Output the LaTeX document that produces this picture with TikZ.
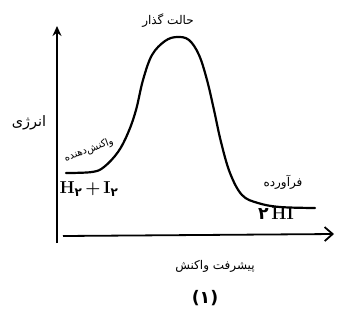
\documentclass[tikz,border=0pt]{standalone}
\usepackage{fontspec}
\usetikzlibrary{arrows.meta}
\TeXXeTstate=1
\newfontfamily\arabicfont[Script=Arabic]{DejaVu Sans}
\tikzset{
  axisline/.style={line width=1.8pt, black},
  curveline/.style={line width=2.2pt, black, line cap=round, line join=round},
  fa/.style={font=\arabicfont\large, inner sep=1pt},
  chem/.style={font=\bfseries\LARGE, inner sep=1pt}
}
\begin{document}
\begin{tikzpicture}[x=1pt,y=-1pt]
\useasboundingbox[fill=white] (0,0) rectangle (342,322);
% axes
\coordinate (ybot) at (57,243);
\coordinate (ytop) at (57,26);
\coordinate (xl) at (63,236);
\coordinate (xr) at (334,234);
\draw[axisline,-{Stealth[length=10pt,width=9pt]}] (ybot) -- (ytop);
\draw[axisline,-{Straight Barb[length=8pt,width=14pt]}] (xl) -- (xr);
% energy curve
\draw[curveline] plot[smooth, tension=0.6] coordinates {
 (66,173) (92,172) (104,167) (118,152) (128,133) (136,110) (143,80)
 (152,55) (165,41) (177,37) (189,40) (199,55) (207,80) (214,110)
 (221,142) (230,173) (242,195) (258,203) (280,207) (315,208)};
% labels
\node[fa, font=\arabicfont\Large] (energy) at (29,123) {\beginR انرژی\endR};
\node[fa, font=\arabicfont\normalsize, rotate=20] (react) at (89,150) {\beginR واکنش‌دهنده\endR};
\node[chem] (reactf) at (89,189) {H\textsubscript{\arabicfont ۲}\,+\,I\textsubscript{\arabicfont ۲}};
\node[fa] (ts) at (168,21) {\beginR حالت گذار\endR};
\node[fa] (prod) at (283,182) {\beginR فرآورده\endR};
\node[chem] (prodf) at (276,214) {{\arabicfont ۲}\,HI};
\node[fa] (prog) at (215,266) {\beginR پیشرفت واکنش\endR};
\node[fa, font=\arabicfont\LARGE\bfseries] (num) at (205,298) {(۱)};
\end{tikzpicture}
\end{document}
